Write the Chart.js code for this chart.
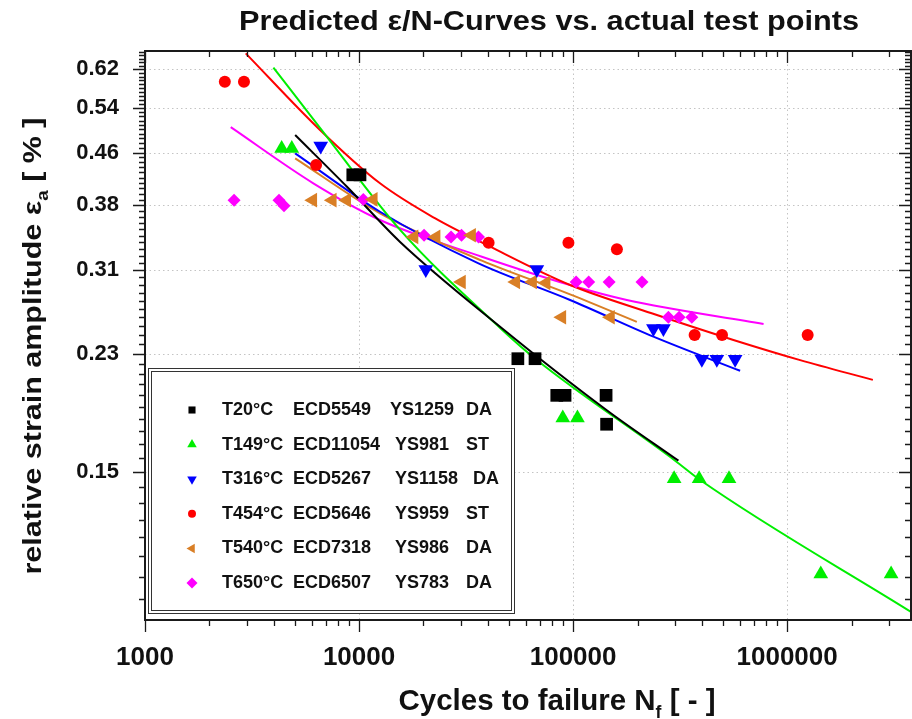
<!DOCTYPE html>
<html>
<head>
<meta charset="utf-8">
<title>Predicted e/N-Curves vs. actual test points</title>
<script src="https://cdn.jsdelivr.net/npm/chart.js@4.4.1/dist/chart.umd.min.js"></script>
<style>
  html, body { margin: 0; padding: 0; background: #fff; }
  #wrap { width: 912px; height: 719px; }
</style>
</head>
<body>
<div id="wrap"><canvas id="enChart" width="912" height="719"></canvas></div>
<script>
// ===== DATA ===== //
const xTickValues = [1000, 10000, 100000, 1000000];
const xTickLabels = ['1000', '10000', '100000', '1000000'];
const yTickValues = [0.1525, 0.23, 0.3075, 0.385, 0.4625, 0.54, 0.6175];
const yTickLabels = ['0.15', '0.23', '0.31', '0.38', '0.46', '0.54', '0.62'];

const seriesLabels = [
    'T20°C ECD5549 YS1259 DA',
    'T149°C ECD11054 YS981 ST',
    'T316°C ECD5267 YS1158 DA',
    'T454°C ECD5646 YS959 ST',
    'T540°C ECD7318 YS986 DA',
    'T650°C ECD6507 YS783 DA'
];

// test points (cycles, strain amplitude %)
const t20TestN = [9350, 10100, 55200, 66400, 83900, 91700, 142600, 143400];
const t20TestEps = [0.428, 0.428, 0.226, 0.226, 0.199, 0.199, 0.199, 0.180];
const t149TestN = [4350, 4850, 89500, 104800, 296500, 388000, 535000, 1436000, 3060000];
const t149TestEps = [0.469, 0.469, 0.184, 0.184, 0.149, 0.149, 0.149, 0.107, 0.107];
const t316TestN = [6620, 20500, 67700, 237300, 264200, 399500, 469400, 571500];
const t316TestEps = [0.473, 0.308, 0.308, 0.251, 0.251, 0.2255, 0.2255, 0.2255];
const t454TestN = [2360, 2900, 6300, 40300, 95100, 160200, 369700, 496400, 1247000];
const t454TestEps = [0.5915, 0.5915, 0.443, 0.338, 0.338, 0.3305, 0.2454, 0.2454, 0.2454];
const t540TestN = [6080, 7500, 8760, 11660, 18070, 22910, 33570, 30100, 54000, 64700, 74800, 88600, 149500];
const t540TestEps = [0.392, 0.392, 0.392, 0.393, 0.345, 0.345, 0.347, 0.295, 0.295, 0.295, 0.294, 0.261, 0.261];
const t650TestN = [2606, 4228, 4462, 10470, 20120, 26910, 30100, 36140, 103300, 118300, 147300, 209900, 278800, 312800, 358600];
const t650TestEps = [0.392, 0.392, 0.3845, 0.393, 0.347, 0.345, 0.347, 0.345, 0.295, 0.295, 0.295, 0.295, 0.261, 0.261, 0.261];

// predicted curves
const t20FitN = [5030, 8760, 15550, 45600, 143700, 310500];
const t20FitEps = [0.4915, 0.411, 0.339, 0.2526, 0.189, 0.1586];
const t149FitN = [3980, 6570, 15550, 45600, 67700, 299700, 392300, 3790000];
const t149FitEps = [0.621, 0.504, 0.3535, 0.2515, 0.225, 0.1586, 0.1483, 0.0938];
const t316FitN = [5030, 12530, 36140, 96800, 237300, 603000];
const t316FitEps = [0.4612, 0.3765, 0.3148, 0.2771, 0.244, 0.2167];
const t454FitN = [2955, 6570, 12530, 22490, 40330, 96800, 232800, 561000, 1150000, 2515000];
const t454FitEps = [0.6527, 0.5002, 0.4156, 0.3685, 0.3343, 0.2919, 0.2646, 0.2412, 0.2249, 0.21];
const t540FitN = [5030, 12530, 37480, 96800, 198500];
const t540FitEps = [0.4532, 0.3745, 0.3177, 0.2826, 0.2569];
const t650FitN = [2515, 6114, 12530, 37480, 96800, 178200, 776000];
const t650FitEps = [0.505, 0.4156, 0.3659, 0.3221, 0.2919, 0.2771, 0.2549];

// ===== STYLES ===== //
const FONT = "'Liberation Sans', Arial, sans-serif";
const series = [
    { testN: t20TestN, testEps: t20TestEps, fitN: t20FitN, fitEps: t20FitEps, color: '#000000', style: 'rect', rot: 0, r: 9, lr: 5 },
    { testN: t149TestN, testEps: t149TestEps, fitN: t149FitN, fitEps: t149FitEps, color: '#00ee00', style: 'triangle', rot: 0, r: 8.5, lr: 5.5 },
    { testN: t316TestN, testEps: t316TestEps, fitN: t316FitN, fitEps: t316FitEps, color: '#0000ff', style: 'triangle', rot: 180, r: 8.5, lr: 5.5 },
    { testN: t454TestN, testEps: t454TestEps, fitN: t454FitN, fitEps: t454FitEps, color: '#ff0000', style: 'circle', rot: 0, r: 6, lr: 4 },
    { testN: t540TestN, testEps: t540TestEps, fitN: t540FitN, fitEps: t540FitEps, color: '#d97f26', style: 'triangle', rot: -90, r: 8.5, lr: 5.5 },
    { testN: t650TestN, testEps: t650TestEps, fitN: t650FitN, fitEps: t650FitEps, color: '#ff00ff', style: 'rectRot', rot: 0, r: 6.5, lr: 5.5 }
];

const zip = (xs, ys) => xs.map((x, i) => ({ x: x, y: ys[i] }));

const datasets = [];
series.forEach((s, i) => {
    datasets.push({
        label: seriesLabels[i] + ' fit',
        data: zip(s.fitN, s.fitEps),
        showLine: true,
        borderColor: s.color,
        borderWidth: 2,
        pointRadius: 0,
        cubicInterpolationMode: 'monotone',
        order: 2
    });
    datasets.push({
        label: seriesLabels[i],
        data: zip(s.testN, s.testEps),
        showLine: false,
        backgroundColor: s.color,
        borderWidth: 0,
        pointStyle: s.style,
        rotation: s.rot,
        pointRadius: s.r,
        pointHoverRadius: s.r,
        order: 1
    });
});

// ===== TEXT HELPER ===== //
function drawRuns(ctx, runs, size, targetWidth) {
    const subSize = Math.round(size * 0.6);
    let w = 0;
    runs.forEach(([t, sub]) => {
        ctx.font = `bold ${sub ? subSize : size}px ${FONT}`;
        w += ctx.measureText(t).width;
    });
    const k = targetWidth ? targetWidth / w : 1;
    ctx.save();
    ctx.scale(k, 1);
    let px = -w / 2;
    ctx.textAlign = 'left';
    ctx.textBaseline = 'alphabetic';
    runs.forEach(([t, sub]) => {
        ctx.font = `bold ${sub ? subSize : size}px ${FONT}`;
        ctx.fillText(t, px, sub ? size * 0.25 : 0);
        px += ctx.measureText(t).width;
    });
    ctx.restore();
}

// ===== FRAME / GRID / LEGEND PLUGIN ===== //
const framePlugin = {
    id: 'frame',
    beforeDatasetsDraw(chart) {
        const { ctx, chartArea: a, scales: { x, y } } = chart;
        ctx.save();
        ctx.strokeStyle = '#c4c4c4';
        ctx.lineWidth = 1;
        ctx.setLineDash([1.5, 3]);
        xTickValues.forEach(v => {
            const px = Math.round(x.getPixelForValue(v)) + 0.5;
            if (px <= a.left + 2 || px >= a.right - 2) return;
            ctx.beginPath(); ctx.moveTo(px, a.top); ctx.lineTo(px, a.bottom); ctx.stroke();
        });
        yTickValues.forEach(v => {
            const py = Math.round(y.getPixelForValue(v)) + 0.5;
            ctx.beginPath(); ctx.moveTo(a.left, py); ctx.lineTo(a.right, py); ctx.stroke();
        });
        ctx.restore();
    },
    afterDatasetsDraw(chart) {
        const { ctx, chartArea: a, scales: { x, y } } = chart;
        ctx.save();
        ctx.strokeStyle = '#1a1a1a';
        ctx.lineWidth = 1.3;

        const vTick = (px, len) => {
            ctx.beginPath();
            ctx.moveTo(px, a.bottom); ctx.lineTo(px, a.bottom + len);
            ctx.moveTo(px, a.top); ctx.lineTo(px, a.top + len);
            ctx.stroke();
        };
        const hTick = (py, len) => {
            ctx.beginPath();
            ctx.moveTo(a.left - len, py); ctx.lineTo(a.left, py);
            ctx.moveTo(a.right, py); ctx.lineTo(a.right - len, py);
            ctx.stroke();
        };

        // x ticks: decades plus 2..9 minors
        for (let d = 3; d <= 6; d++) {
            for (let k = 1; k <= 9; k++) {
                const v = k * Math.pow(10, d);
                if (v > x.max) break;
                vTick(Math.round(x.getPixelForValue(v)) + 0.5, k === 1 ? 12 : 6);
            }
        }
        // y ticks: majors plus ten minors per step
        const step = (yTickValues[1] - yTickValues[0]) / 10;
        for (let i = -20; i <= 80; i++) {
            const v = yTickValues[0] + i * step;
            if (v < y.min || v > y.max) continue;
            hTick(Math.round(y.getPixelForValue(v)) + 0.5, i % 10 === 0 && v <= yTickValues[yTickValues.length - 1] + 1e-6 ? 12 : 6);
        }

        // frame
        ctx.lineWidth = 2;
        ctx.strokeRect(a.left, a.top, a.right - a.left, a.bottom - a.top);

        // legend box
        const L = { l: 149, t: 369, r: 515, b: 614 };
        ctx.fillStyle = '#fff';
        ctx.fillRect(L.l, L.t, L.r - L.l, L.b - L.t);
        ctx.lineWidth = 1;
        ctx.strokeStyle = '#333';
        ctx.strokeRect(L.l - 0.5, L.t - 0.5, L.r - L.l, L.b - L.t);
        ctx.strokeRect(L.l + 2.5, L.t + 2.5, L.r - L.l - 6, L.b - L.t - 6);

        const cols = [222, 293, 395, 466];
        ctx.font = `bold 18px ${FONT}`;
        ctx.textBaseline = 'middle';
        ctx.textAlign = 'left';
        series.forEach((s, i) => {
            const cy = 410 + i * 34.6;
            ctx.fillStyle = s.color;
            Chart.helpers.drawPoint(ctx, { pointStyle: s.style, radius: s.lr, rotation: s.rot, borderWidth: 0 }, 192, cy);
            ctx.fillStyle = '#111';
            seriesLabels[i].split(' ').forEach((part, c) => {
                ctx.fillText(part, cols[c] + (i === 0 && c === 2 ? -5 : 0) + (i === 2 && c === 3 ? 7 : 0), cy);
            });
        });
        ctx.restore();
    },
    afterDraw(chart) {
        const { ctx } = chart;
        ctx.save();
        ctx.fillStyle = '#111';
        // chart title
        ctx.save();
        ctx.translate(549, 30);
        drawRuns(ctx, [['Predicted ε/N-Curves vs. actual test points', false]], 27, 620);
        ctx.restore();
        // x axis title
        ctx.save();
        ctx.translate(557, 710);
        drawRuns(ctx, [['Cycles to failure N', false], ['f', true], [' [ - ]', false]], 30, 317);
        ctx.restore();
        // y axis title
        ctx.save();
        ctx.translate(41, 346);
        ctx.rotate(-Math.PI / 2);
        drawRuns(ctx, [['relative strain amplitude ε', false], ['a', true], [' [ % ]', false]], 26, 457);
        ctx.restore();
        ctx.restore();
    }
};

// ===== CHART ===== //
const ctx = document.getElementById('enChart').getContext('2d');
new Chart(ctx, {
    type: 'scatter',
    data: { datasets: datasets },
    options: {
        responsive: false,
        animation: false,
        devicePixelRatio: 1,
        layout: { autoPadding: false, padding: { top: 51, left: 0, right: 1, bottom: 0 } },
        plugins: {
            legend: { display: false },
            title: { display: false },
            tooltip: { enabled: false }
        },
        scales: {
            x: {
                type: 'logarithmic',
                min: 1000,
                max: 3790000,
                afterBuildTicks: axis => { axis.ticks = xTickValues.map(v => ({ value: v })); },
                afterFit: axis => { axis.height = 99; axis.paddingLeft = 0; axis.paddingRight = 0; },
                grid: { color: 'rgba(0,0,0,0)', drawTicks: true, tickLength: 12 },
                border: { display: false },
                ticks: {
                    autoSkip: false,
                    maxRotation: 0,
                    padding: 10,
                    color: '#111',
                    font: { family: FONT, size: 26, weight: 'bold' },
                    callback: v => { const i = xTickValues.indexOf(v); return i >= 0 ? xTickLabels[i] : ''; }
                }
            },
            y: {
                type: 'logarithmic',
                min: 0.0912,
                max: 0.658,
                afterBuildTicks: axis => { axis.ticks = yTickValues.map(v => ({ value: v })); },
                afterFit: axis => { axis.width = 145; axis.paddingTop = 0; axis.paddingBottom = 0; },
                grid: { color: 'rgba(0,0,0,0)', drawTicks: true, tickLength: 12 },
                border: { display: false },
                ticks: {
                    autoSkip: false,
                    padding: 14,
                    color: '#111',
                    font: { family: FONT, size: 22, weight: 'bold' },
                    callback: v => { const i = yTickValues.indexOf(v); return i >= 0 ? yTickLabels[i] : ''; }
                }
            }
        }
    },
    plugins: [framePlugin]
});
</script>
</body>
</html>
